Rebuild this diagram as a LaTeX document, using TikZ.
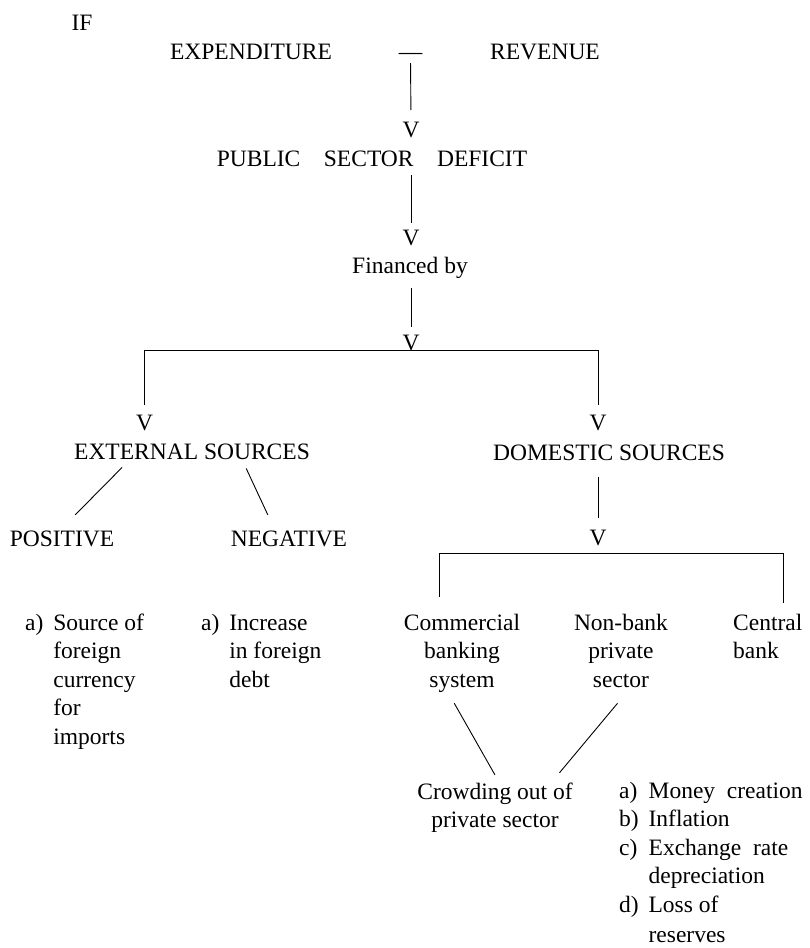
\documentclass[tikz,border=0pt]{standalone}
\usepackage{fontspec}
\setmainfont{Liberation Serif}
\usepackage{tikz}

\begin{document}
\begin{tikzpicture}[x=1pt,y=-1pt,
  lbl/.style={inner sep=0pt,anchor=base,font=\fontsize{23.5}{28.5}\selectfont},
  link/.style={line width=0.9pt}]
\useasboundingbox (0,0) rectangle (810,948);
%% deficit
\node[lbl] (if) at (82,30) {IF};
\node[lbl] (exp) at (251,59) {EXPENDITURE};
\node[lbl] (minus) at (410.5,59) {---};
\node[lbl] (rev) at (545,59) {REVENUE};
\node[lbl] (v1) at (411,137) {V};
\node[lbl] (psd) at (372,166) {PUBLIC\quad SECTOR\quad DEFICIT};
\node[lbl] (v2) at (411,245) {V};
\node[lbl] (fin) at (410,273) {Financed by};
\node[lbl] (v3) at (411,350) {V};
\draw[link,shorten <=4pt,shorten >=11.4pt] (minus.south) -- (v1.north);
\draw[link,shorten <=9pt,shorten >=6.4pt] (v1 |- psd.south) -- (v2.north);
\draw[link,shorten <=10pt,shorten >=7.4pt] (v3 |- fin.south) -- (v3.north);
%% sources
\node[lbl] (lv) at (144.5,430) {V};
\node[lbl] (rv) at (598,430) {V};
\draw[link,shorten <=9.4pt,shorten >=9.4pt] (lv.north) |- (v3.south) -| (rv.north);
\node[lbl] (ext) at (192,459) {EXTERNAL SOURCES};
\node[lbl] (dom) at (609,460) {DOMESTIC SOURCES};
\node[lbl] (pos) at (62,546) {POSITIVE};
\node[lbl] (neg) at (289,546) {NEGATIVE};
\draw[link,shorten <=11.2pt,shorten >=21.6pt] ([xshift=-62pt]ext.south) -- ([xshift=-2pt]pos.north);
\draw[link,shorten <=9.9pt,shorten >=17pt] ([xshift=50pt]ext.south) -- ([xshift=-14pt]neg.north);
\node[lbl,anchor=base west] (srcpos) at (25,630) {\begin{tabular}[t]{@{}l@{\hspace{0.42em}}l@{}}
  a) & Source of\\ & foreign\\ & currency\\ & for\\ & imports\end{tabular}};
\node[lbl,anchor=base west] (srcneg) at (201,630) {\begin{tabular}[t]{@{}l@{\hspace{0.42em}}l@{}}
  a) & Increase\\ & in foreign\\ & debt\end{tabular}};
%% domestic
\node[lbl] (dv) at (598,545) {V};
\draw[link,shorten <=17pt,shorten >=11.4pt] (dv |- dom.south) -- (dv.north);
\node[lbl] (com) at (462,630) {\begin{tabular}[t]{@{}c@{}}Commercial\\banking\\system\end{tabular}};
\node[lbl] (nb) at (621,630) {\begin{tabular}[t]{@{}c@{}}Non-bank\\private\\sector\end{tabular}};
\node[lbl,anchor=base west] (cen) at (733,630) {\begin{tabular}[t]{@{}l@{}}Central\\bank\end{tabular}};
\draw[link,shorten <=13pt,shorten >=7pt] ([xshift=-23pt]com.north) |- ([yshift=-8pt]dv.south) -| ([xshift=16pt]cen.north);
\node[lbl] (crowd) at (495,799) {\begin{tabular}[t]{@{}c@{}}Crowding out of\\private sector\end{tabular}};
\draw[link,shorten <=8.6pt,shorten >=4.6pt] ([xshift=-12pt]com.south) -- ([xshift=2.2pt]crowd.north);
\draw[link,shorten <=9.8pt,shorten >=7.8pt] ([xshift=2.8pt]nb.south) -- ([xshift=59.4pt]crowd.north);
\node[lbl,anchor=base west] (eff) at (619,798) {\begin{tabular}[t]{@{}l@{\hspace{0.42em}}l@{}}
  a) & Money\ \ creation\\ b) & Inflation\\ c) & Exchange\ \ rate\\ & depreciation\\ d) & Loss of\\[2pt] & reserves\end{tabular}};

\end{tikzpicture}
\end{document}
